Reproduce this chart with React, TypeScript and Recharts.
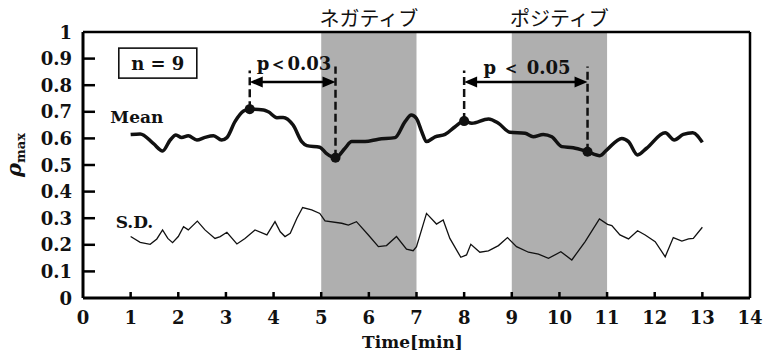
import React from "react";
import {
  LineChart,
  Line,
  XAxis,
  YAxis,
  ReferenceArea,
  ReferenceLine,
  ReferenceDot,
} from "recharts";

const meanTime = [1.0, 1.2, 1.48, 1.67, 1.83, 1.95, 2.07, 2.21, 2.39, 2.56, 2.74, 2.91, 3.02, 3.19, 3.37, 3.5, 3.79, 3.89, 4.07, 4.2, 4.41, 4.59, 4.7, 4.97, 5.1, 5.3, 5.5, 5.64, 5.92, 6.2, 6.55, 6.76, 6.89, 7.0, 7.11, 7.21, 7.39, 7.6, 7.81, 8.0, 8.16, 8.51, 8.72, 8.96, 9.28, 9.45, 9.66, 9.84, 10.05, 10.29, 10.59, 10.85, 10.99, 11.31, 11.45, 11.64, 11.83, 12.22, 12.41, 12.6, 12.8, 13.0];
const meanValue = [0.615, 0.617, 0.58, 0.553, 0.594, 0.613, 0.603, 0.61, 0.594, 0.604, 0.61, 0.594, 0.603, 0.663, 0.703, 0.71, 0.707, 0.7, 0.678, 0.679, 0.65, 0.588, 0.573, 0.567, 0.545, 0.527, 0.563, 0.588, 0.588, 0.597, 0.603, 0.663, 0.688, 0.675, 0.625, 0.588, 0.606, 0.615, 0.644, 0.665, 0.657, 0.673, 0.657, 0.623, 0.619, 0.606, 0.615, 0.606, 0.569, 0.565, 0.55, 0.535, 0.556, 0.6, 0.588, 0.538, 0.563, 0.621, 0.594, 0.615, 0.621, 0.585];

const sdTime = [1.0, 1.2, 1.41, 1.55, 1.67, 1.78, 1.88, 2.0, 2.11, 2.21, 2.4, 2.56, 2.77, 2.88, 3.02, 3.23, 3.4, 3.61, 3.86, 4.03, 4.14, 4.24, 4.35, 4.49, 4.61, 4.8, 4.97, 5.08, 5.43, 5.57, 5.74, 5.99, 6.2, 6.37, 6.58, 6.79, 6.93, 7.0, 7.21, 7.42, 7.56, 7.7, 7.93, 8.05, 8.14, 8.33, 8.51, 8.72, 8.91, 9.1, 9.35, 9.56, 9.77, 10.03, 10.26, 10.54, 10.84, 11.01, 11.1, 11.27, 11.45, 11.64, 11.8, 12.01, 12.22, 12.39, 12.57, 12.71, 12.81, 13.0];
const sdValue = [0.231, 0.209, 0.202, 0.222, 0.256, 0.224, 0.208, 0.231, 0.268, 0.256, 0.289, 0.256, 0.224, 0.231, 0.247, 0.203, 0.224, 0.256, 0.237, 0.287, 0.249, 0.231, 0.243, 0.3, 0.34, 0.331, 0.318, 0.29, 0.281, 0.274, 0.287, 0.237, 0.193, 0.197, 0.231, 0.184, 0.178, 0.193, 0.318, 0.278, 0.293, 0.224, 0.153, 0.162, 0.202, 0.172, 0.177, 0.197, 0.227, 0.193, 0.172, 0.165, 0.149, 0.174, 0.143, 0.212, 0.297, 0.277, 0.272, 0.237, 0.222, 0.253, 0.237, 0.212, 0.155, 0.227, 0.214, 0.222, 0.224, 0.266];

const xTicks = [0, 1, 2, 3, 4, 5, 6, 7, 8, 9, 10, 11, 12, 13, 14];
const yTicks = [0, 0.1, 0.2, 0.3, 0.4, 0.5, 0.6, 0.7, 0.8, 0.9, 1];

const periodLabels = ["ネガティブ", "ポジティブ"];
const periodStart = [5, 9];
const periodEnd = [7, 11];

// significance comparisons: start time/value, end time/value
const compLabels = ["p＜0.03", "p ＜ 0.05"];
const compStartTime = [3.5, 8.0];
const compStartValue = [0.71, 0.665];
const compEndTime = [5.3, 10.59];
const compEndValue = [0.527, 0.55];

const meanData = meanTime.map((t, i) => ({ t, v: meanValue[i] }));
const sdData = sdTime.map((t, i) => ({ t, v: sdValue[i] }));

const SERIF = "'DejaVu Serif', serif";
const CJK = "'Noto Sans CJK JP', sans-serif";

const YTick = (props: any) => {
  const { x, y, payload } = props;
  const v = payload.value;
  const label = v === 0 ? "0" : v === 1 ? "1" : v.toFixed(1);
  return (
    <g>
      {v > 0 && v < 1 && (
        <line x1={x + 11} x2={x + 23} y1={y} y2={y} stroke="#000" strokeWidth={2.5} />
      )}
      <text
        x={x}
        y={y}
        textAnchor="end"
        dominantBaseline="central"
        fontFamily={SERIF}
        fontWeight="bold"
        fontSize={18}
        fill="#111"
      >
        {label}
      </text>
    </g>
  );
};

const XTick = (props: any) => {
  const { x, y, payload } = props;
  const v = payload.value;
  return (
    <g>
      {v > 0 && v < 14 && (
        <line x1={x} x2={x} y1={y - 19} y2={y - 25} stroke="#000" strokeWidth={2.5} />
      )}
      <text
        x={x}
        y={y}
        textAnchor="middle"
        dominantBaseline="central"
        fontFamily={SERIF}
        fontWeight="bold"
        fontSize={18}
        fill="#111"
      >
        {v}
      </text>
    </g>
  );
};

const textDot = (
  key: string,
  x: number,
  y: number,
  text: string,
  opts: { family?: string; size?: number; weight?: string } = {}
) => (
  <ReferenceDot
    key={key}
    x={x}
    y={y}
    r={0}
    ifOverflow="visible"
    shape={(p: any) => (
      <text
        x={p.cx}
        y={p.cy}
        textAnchor="middle"
        dominantBaseline="central"
        fontFamily={opts.family || SERIF}
        fontWeight={opts.weight || "bold"}
        fontSize={opts.size || 18}
        fill="#111"
      >
        {text}
      </text>
    )}
  />
);

const arrowShape = (p: any) => {
  const { x1, y1, x2, y2 } = p;
  const L = 13;
  const W = 5.5;
  const left = Math.min(x1, x2);
  const right = Math.max(x1, x2);
  const y = y1;
  return (
    <g>
      <line x1={left + L - 1} x2={right - L + 1} y1={y} y2={y2} stroke="#000" strokeWidth={2.5} />
      <polygon points={`${left},${y} ${left + L},${y - W} ${left + L},${y + W}`} fill="#000" />
      <polygon points={`${right},${y} ${right - L},${y - W} ${right - L},${y + W}`} fill="#000" />
    </g>
  );
};

export default function App() {
  return (
    <div style={{ position: "absolute", left: 0, top: 0 }}>
      <LineChart
        width={766}
        height={354}
        margin={{ top: 32, right: 16, bottom: 0, left: 0 }}
      >
        {periodStart.map((s, i) => (
          <ReferenceArea
            key={"area" + i}
            x1={s}
            x2={periodEnd[i]}
            y1={0}
            y2={1}
            fill="#afafaf"
            fillOpacity={1}
            stroke="none"
          />
        ))}
        <XAxis
          dataKey="t"
          type="number"
          domain={[0, 14]}
          ticks={xTicks}
          allowDataOverflow
          height={56}
          tickSize={0}
          tickMargin={19}
          tickLine={false}
          axisLine={{ stroke: "#000", strokeWidth: 3 }}
          tick={<XTick />}
          interval={0}
          label={{
            content: (p: any) => {
              const vb = p.viewBox;
              return (
                <text
                  x={vb.x + vb.width / 2 - 4}
                  y={vb.y + 44}
                  textAnchor="middle"
                  dominantBaseline="central"
                  fontFamily={SERIF}
                  fontWeight="bold"
                  fontSize={17}
                  fill="#111"
                >
                  Time[min]
                </text>
              );
            },
          }}
        />
        <YAxis
          type="number"
          domain={[0, 1]}
          ticks={yTicks}
          width={83}
          tickSize={0}
          tickMargin={11}
          tickLine={false}
          axisLine={{ stroke: "#000", strokeWidth: 3 }}
          tick={<YTick />}
          interval={0}
          label={{
            content: (p: any) => {
              const vb = p.viewBox;
              const rx = vb.x + 21;
              const ry = vb.y + 145;
              const mx = vb.x + 25;
              const my = vb.y + 131;
              return (
                <g>
                  <text
                    x={rx}
                    y={ry}
                    transform={`rotate(-90 ${rx} ${ry})`}
                    textAnchor="start"
                    fontFamily={SERIF}
                    fontWeight="bold"
                    fontStyle="italic"
                    fontSize={21}
                    fill="#111"
                  >
                    ρ
                  </text>
                  <text
                    x={mx}
                    y={my}
                    transform={`rotate(-90 ${mx} ${my})`}
                    textAnchor="start"
                    fontFamily={SERIF}
                    fontWeight="bold"
                    fontSize={13}
                    fill="#111"
                  >
                    max
                  </text>
                </g>
              );
            },
          }}
        />
        <ReferenceLine y={1} stroke="#000" strokeWidth={2.5} />
        <ReferenceLine x={14} stroke="#000" strokeWidth={2.5} />

        <Line
          data={sdData}
          dataKey="v"
          type="linear"
          stroke="#111"
          strokeWidth={1.3}
          dot={false}
          isAnimationActive={false}
        />
        <Line
          data={meanData}
          dataKey="v"
          type="monotone"
          stroke="#111"
          strokeWidth={3.5}
          dot={false}
          isAnimationActive={false}
        />

        {compStartTime.map((s, i) => (
          <ReferenceLine
            key={"dashA" + i}
            segment={[
              { x: s, y: compStartValue[i] },
              { x: s, y: 0.855 },
            ]}
            stroke="#111"
            strokeWidth={2.5}
            strokeDasharray="8 4"
            ifOverflow="visible"
          />
        ))}
        {compEndTime.map((s, i) => (
          <ReferenceLine
            key={"dashB" + i}
            segment={[
              { x: s, y: compEndValue[i] },
              { x: s, y: 0.87 },
            ]}
            stroke="#111"
            strokeWidth={2.5}
            strokeDasharray="8 4"
            ifOverflow="visible"
          />
        ))}
        {compStartTime.map((s, i) => (
          <ReferenceLine
            key={"arrow" + i}
            segment={[
              { x: s, y: 0.812 },
              { x: compEndTime[i], y: 0.812 },
            ]}
            ifOverflow="visible"
            shape={arrowShape}
          />
        ))}
        {compStartTime.map((s, i) => (
          <ReferenceDot key={"mA" + i} x={s} y={compStartValue[i]} r={5} fill="#111" stroke="none" />
        ))}
        {compEndTime.map((s, i) => (
          <ReferenceDot key={"mB" + i} x={s} y={compEndValue[i]} r={5} fill="#111" stroke="none" />
        ))}

        {textDot("c0", 4.43, 0.883, compLabels[0])}
        {textDot("c1", 9.32, 0.868, compLabels[1])}
        {textDot("mean", 1.13, 0.68, "Mean", { size: 17 })}
        {textDot("sd", 1.08, 0.286, "S.D.", { size: 17 })}
        {periodLabels.map((lab, i) =>
          textDot("p" + i, (periodStart[i] + periodEnd[i]) / 2, 1.053, lab, {
            family: CJK,
            size: 20,
            weight: "normal",
          })
        )}

        <ReferenceDot
          x={1.57}
          y={0.883}
          r={0}
          ifOverflow="visible"
          shape={(p: any) => (
            <g>
              <rect x={p.cx - 39} y={p.cy - 15} width={78} height={30} fill="#fff" stroke="#111" strokeWidth={1.6} />
              <text
                x={p.cx}
                y={p.cy}
                textAnchor="middle"
                dominantBaseline="central"
                fontFamily={SERIF}
                fontWeight="bold"
                fontSize={18}
                fill="#111"
              >
                n = 9
              </text>
            </g>
          )}
        />
      </LineChart>
    </div>
  );
}
